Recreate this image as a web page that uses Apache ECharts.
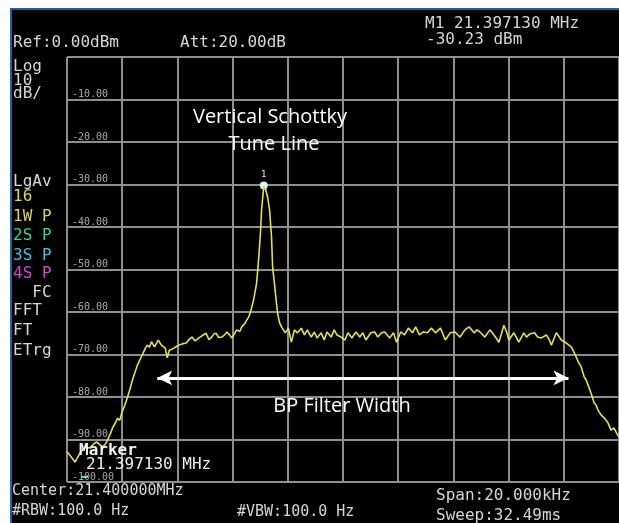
<!DOCTYPE html>
<html>
<head>
<meta charset="utf-8">
<script src="https://cdn.jsdelivr.net/npm/echarts@6/dist/echarts.min.js"></script>
<style>
html,body{margin:0;padding:0;background:#fff;}
#c{width:619px;height:523px;}
</style>
</head>
<body>
<div id="c"></div>
<script>
// Frequency offset from centre (kHz), centre 21.400000 MHz, span 20 kHz
var freqOffsetKHz = [
-10.00,-9.86,-9.71,-9.53,-9.35,-9.17,-9.03,-8.92,-8.81,-8.71,-8.60,-8.53,-8.42,-8.35,-8.24,-8.17,-8.09,-8.02,-7.91,-7.84,
-7.73,-7.63,-7.55,-7.45,-7.34,-7.27,-7.16,-7.09,-7.01,-6.94,-6.83,-6.76,-6.69,-6.58,-6.51,-6.44,-6.37,-6.29,-6.22,-6.12,
-6.01,-5.94,-5.83,-5.68,-5.58,-5.47,-5.36,-5.22,-5.11,-4.96,-4.86,-4.78,-4.68,-4.60,-4.50,-4.39,-4.28,-4.21,-4.10,-4.03,
-3.92,-3.85,-3.74,-3.67,-3.56,-3.49,-3.42,-3.35,-3.24,-3.13,-3.06,-2.99,-2.95,-2.90,-2.87,-2.81,-2.73,-2.66,-2.59,-2.55,
-2.48,-2.45,-2.37,-2.30,-2.23,-2.09,-1.98,-1.87,-1.76,-1.65,-1.51,-1.40,-1.29,-1.15,-1.04,-0.94,-0.79,-0.68,-0.58,-0.43,
-0.32,-0.22,-0.07,0.07,0.18,0.32,0.47,0.61,0.72,0.83,1.01,1.15,1.26,1.40,1.51,1.69,1.83,1.94,2.09,2.23,
2.37,2.52,2.63,2.77,2.91,3.06,3.20,3.35,3.53,3.71,3.88,4.06,4.24,4.42,4.57,4.75,4.86,4.96,5.14,5.32,
5.47,5.65,5.83,5.94,6.01,6.19,6.29,6.37,6.55,6.65,6.76,6.94,7.05,7.19,7.37,7.48,7.55,7.73,7.91,8.09,
8.27,8.38,8.53,8.63,8.74,8.81,8.88,8.99,9.10,9.17,9.24,9.35,9.46,9.53,9.60,9.71,9.82,9.93,10.00
];
// Trace level (dBm)
var levelDbm = [
-92.9,-94.0,-95.3,-93.2,-91.8,-92.0,-91.0,-90.6,-91.2,-91.8,-91.0,-90.1,-88.5,-87.3,-86.0,-85.0,-85.5,-83.8,-82.0,-80.7,
-78.4,-76.0,-74.5,-72.5,-71.0,-70.1,-68.5,-67.8,-68.3,-67.0,-68.2,-67.4,-66.6,-67.8,-67.5,-68.5,-70.8,-69.0,-68.7,-68.5,
-68.0,-68.2,-67.5,-67.3,-66.5,-65.9,-66.8,-66.1,-65.6,-65.0,-66.5,-66.1,-65.2,-65.0,-66.0,-65.9,-65.3,-64.7,-65.5,-66.1,
-65.0,-64.2,-64.6,-63.5,-62.8,-61.9,-61.2,-60.0,-57.2,-53.2,-47.8,-41.4,-36.0,-32.5,-30.23,-31.0,-33.0,-36.0,-42.3,-49.4,
-53.5,-55.5,-60.3,-62.5,-63.5,-64.9,-63.8,-67.1,-64.2,-64.9,-63.8,-65.4,-64.2,-65.9,-64.7,-66.1,-64.9,-66.6,-64.7,-65.9,
-64.2,-65.4,-65.9,-66.6,-64.9,-66.1,-64.7,-65.9,-64.9,-66.6,-64.9,-64.7,-65.9,-64.9,-64.7,-66.1,-64.9,-67.1,-64.7,-65.4,
-63.8,-64.9,-63.5,-65.4,-64.7,-64.9,-63.8,-64.9,-63.8,-66.6,-64.9,-64.7,-65.9,-64.2,-63.5,-64.9,-64.2,-64.7,-65.9,-64.2,
-65.4,-67.1,-63.1,-64.9,-66.6,-64.9,-66.1,-67.1,-64.9,-65.9,-65.2,-64.9,-65.9,-66.1,-65.4,-66.6,-67.8,-64.9,-66.6,-67.3,
-68.2,-69.6,-71.8,-72.9,-75.3,-76.0,-77.2,-79.1,-81.4,-81.9,-83.1,-84.2,-84.9,-85.4,-86.1,-87.8,-87.3,-88.7,-89.4
];
var yTicks = [0,-10,-20,-30,-40,-50,-60,-70,-80,-90,-100];
var markerFreqKHz = -2.87;   // 21.397130 MHz
var markerLevel = -30.23;
var bpFilterFromKHz = -6.73;
var bpFilterToKHz = 8.17;
var bpFilterLevel = -75.5;

var headerTexts = ['Ref:0.00dBm','Att:20.00dB','M1 21.397130 MHz','-30.23 dBm'];
var sideTexts = ['Log','10','dB/','LgAv','16','1W P','2S P','3S P','4S P','  FC','FFT','FT','ETrg'];
var footerTexts = ['Center:21.400000MHz','#RBW:100.0 Hz','#VBW:100.0 Hz','Span:20.000kHz','Sweep:32.49ms'];
var annotationTexts = ['Vertical Schottky','Tune Line','BP Filter Width'];

var data = freqOffsetKHz.map(function(f,i){return [f, levelDbm[i]];});

var mono = 'DejaVu Sans Mono';
var fg = '#d6d6d6';
function t(text, x, y, fill, size, extra){
  var s = {text:text, x:x, y:y, fill:fill, font: (extra||'') + size + 'px "' + mono + '"', align:'left', verticalAlign:'middle'};
  return {type:'text', z:100, silent:true, style:s};
}
function ann(text, x, y){
  return {type:'text', z:100, silent:true, style:{text:text, x:x, y:y, fill:'#fff', font:'20px "Open Sans"', align:'center', verticalAlign:'middle'}};
}
var sideY = [67,81,94,182,197,217,236,256,274,293,311,331,351];
var sideCol = [fg,fg,fg,fg,'#dcd468','#dcd468','#3fd39a','#45c2e6','#d24ad8',fg,fg,fg,fg];

var graphics = [
  {type:'rect', z:-100, silent:true, shape:{x:11,y:9,width:640,height:540}, style:{fill:'#000', stroke:'#1f5fa2', lineWidth:2}},
  t(headerTexts[0], 13, 43, fg, 16),
  t(headerTexts[1], 180, 43, fg, 16),
  t(headerTexts[2], 425, 24, fg, 16),
  t(headerTexts[3], 426, 40, fg, 16),
  t(footerTexts[0], 12, 491, fg, 15),
  t(footerTexts[1], 12, 511, fg, 15),
  t(footerTexts[2], 237, 512, fg, 15),
  t(footerTexts[3], 436, 496, fg, 16),
  t(footerTexts[4], 436, 516, fg, 16),
  t('Marker', 79, 451, '#f0f0f0', 16, 'bold '),
  t('21.397130 MHz', 86, 465, '#ececec', 16),
  {type:'rect', z:100, silent:true, shape:{x:81,y:476,width:7,height:2}, style:{fill:'#5fd0d0'}},
  ann(annotationTexts[0], 270, 117),
  ann(annotationTexts[1], 274, 144),
  ann(annotationTexts[2], 342, 406)
];
sideTexts.forEach(function(s,i){ graphics.push(t(s, 13, sideY[i], sideCol[i], 16)); });

var chart = echarts.init(document.getElementById('c'), null, {renderer:'canvas'});
chart.setOption({
  animation:false,
  backgroundColor:'#fff',
  graphic: graphics,
  grid:{left:67, top:57, width:556, height:425},
  xAxis:{type:'value', min:-10, max:10, interval:2,
    axisLine:{show:false}, axisTick:{show:false}, axisLabel:{show:false},
    splitLine:{show:true, lineStyle:{color:'#8e8e8e', width:2}}},
  yAxis:{type:'value', min:-100, max:0, interval:10,
    axisLine:{show:false}, axisTick:{show:false},
    axisLabel:{show:true, inside:true, margin:5, verticalAlign:'bottom', color:'#a8a8a8',
      fontFamily:mono, fontSize:10,
      formatter:function(v){ return v === 0 ? '' : v.toFixed(2); }},
    splitLine:{show:true, lineStyle:{color:'#8e8e8e', width:2}}},
  series:[{
    type:'line', data:data, showSymbol:false, symbol:'none',
    lineStyle:{color:'#e4de5c', width:1.6}, z:5,
    markPoint:{
      symbol:'emptyCircle', symbolSize:6, silent:true,
      itemStyle:{color:'#c8f4f4', borderColor:'#c8f4f4', borderWidth:1.5},
      label:{show:true, position:'top', distance:2, formatter:'1', color:'#c8f4f4', fontSize:9, fontFamily:mono},
      data:[{coord:[markerFreqKHz, markerLevel]}]
    },
    markLine:{
      silent:true, symbol:['arrow','arrow'], symbolSize:[11,15],
      lineStyle:{color:'#ffffff', width:3, type:'solid'},
      label:{show:false},
      data:[[{coord:[bpFilterFromKHz, bpFilterLevel]},{coord:[bpFilterToKHz, bpFilterLevel]}]]
    }
  }]
});
</script>
</body>
</html>
